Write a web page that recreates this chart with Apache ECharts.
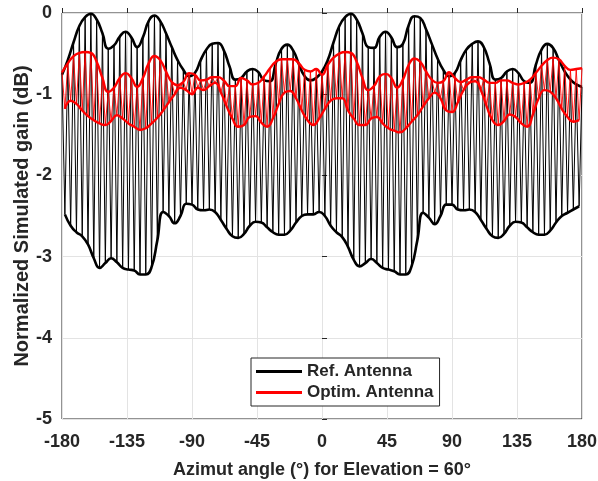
<!DOCTYPE html>
<html><head><meta charset="utf-8">
<script src="https://cdn.jsdelivr.net/npm/echarts@6/dist/echarts.min.js"></script>
<style>html,body{margin:0;padding:0;background:#fff}#c{width:598px;height:481px}</style>
</head><body><div id="c"></div>
<script>
// Azimuth sampling (deg): "A" samples at -180,-176,...,180 ; "B" samples at -178,-174,...,178
const azStart = -180;
const azStep = 2;
const xTicks = [-180, -135, -90, -45, 0, 45, 90, 135, 180];
const yTicks = [0, -1, -2, -3, -4, -5];

// Ref. Antenna (black) : upper samples and lower samples of the fast ripple
const refUpper = [
 -0.76,-0.58,-0.36,-0.16,-0.05,-0.01,-0.08,-0.25,-0.44,-0.40,-0.29,-0.23,-0.30,-0.42,-0.30,-0.10,-0.03,-0.10,-0.25,-0.42,-0.58,-0.70,-0.78,-0.74,-0.58,-0.45,-0.38,-0.37,-0.46,-0.66,-0.82,-0.80,-0.72,-0.69,-0.73,-0.83,-0.84,-0.62,-0.44,-0.39,-0.46,-0.63,-0.78,-0.83,-0.80,
 -0.72,-0.58,-0.36,-0.16,-0.05,-0.01,-0.08,-0.25,-0.42,-0.43,-0.29,-0.23,-0.30,-0.42,-0.38,-0.15,-0.04,-0.06,-0.20,-0.38,-0.56,-0.70,-0.78,-0.74,-0.58,-0.45,-0.38,-0.35,-0.42,-0.62,-0.82,-0.80,-0.72,-0.69,-0.74,-0.84,-0.86,-0.64,-0.45,-0.38,-0.43,-0.58,-0.72,-0.82,-0.88,-0.91
];
const refLower = [
 -2.48,-2.62,-2.70,-2.75,-2.85,-3.02,-3.14,-3.08,-3.02,-3.07,-3.14,-3.16,-3.17,-3.22,-3.22,-3.13,-2.80,-2.45,-2.50,-2.59,-2.50,-2.35,-2.36,-2.42,-2.43,-2.42,-2.45,-2.55,-2.66,-2.75,-2.77,-2.72,-2.62,-2.57,-2.58,-2.64,-2.70,-2.73,-2.73,-2.68,-2.58,-2.50,-2.48,-2.48,-2.45,
 -2.50,-2.62,-2.70,-2.76,-2.88,-3.04,-3.12,-3.08,-3.03,-3.08,-3.14,-3.16,-3.18,-3.22,-3.22,-3.12,-2.80,-2.46,-2.52,-2.60,-2.50,-2.36,-2.36,-2.42,-2.43,-2.42,-2.45,-2.55,-2.66,-2.75,-2.77,-2.72,-2.62,-2.57,-2.58,-2.64,-2.70,-2.73,-2.73,-2.68,-2.58,-2.50,-2.46,-2.42,-2.38
];
// Optim. Antenna (red)
const optUpper = [
 -0.73,-0.62,-0.53,-0.49,-0.48,-0.49,-0.60,-0.80,-0.97,-0.92,-0.80,-0.74,-0.80,-0.91,-0.80,-0.62,-0.53,-0.58,-0.72,-0.85,-0.89,-0.85,-0.74,-0.76,-0.83,-0.82,-0.79,-0.79,-0.83,-0.90,-0.90,-0.80,-0.83,-0.88,-0.86,-0.78,-0.68,-0.60,-0.57,-0.57,-0.57,-0.62,-0.70,-0.72,-0.69,
 -0.76,-0.64,-0.55,-0.50,-0.48,-0.49,-0.60,-0.80,-0.95,-0.90,-0.78,-0.75,-0.80,-0.92,-0.82,-0.64,-0.56,-0.60,-0.72,-0.82,-0.86,-0.84,-0.73,-0.80,-0.85,-0.82,-0.79,-0.79,-0.82,-0.86,-0.86,-0.83,-0.83,-0.86,-0.88,-0.86,-0.82,-0.74,-0.65,-0.58,-0.55,-0.57,-0.65,-0.70,-0.69,-0.68
];
const optLower = [
 -1.18,-1.08,-1.12,-1.20,-1.27,-1.32,-1.36,-1.38,-1.33,-1.26,-1.30,-1.36,-1.40,-1.44,-1.42,-1.36,-1.29,-1.20,-1.10,-1.00,-0.92,-0.95,-1.00,-0.92,-0.95,-0.90,-0.86,-0.98,-1.15,-1.30,-1.40,-1.38,-1.28,-1.27,-1.35,-1.40,-1.30,-1.12,-0.98,-0.96,-1.05,-1.20,-1.32,-1.38,-1.30,
 -1.18,-1.08,-1.05,-1.05,-1.20,-1.30,-1.38,-1.38,-1.30,-1.28,-1.36,-1.42,-1.45,-1.47,-1.42,-1.34,-1.26,-1.15,-1.05,-0.98,-1.05,-1.20,-1.22,-1.10,-0.95,-0.86,-0.84,-0.95,-1.15,-1.32,-1.38,-1.33,-1.25,-1.28,-1.36,-1.40,-1.25,-1.05,-0.95,-0.97,-1.05,-1.18,-1.28,-1.34,-1.32
];

function pts(arr, offset){ return arr.map((v,i)=>[azStart + offset + 2*azStep*i, v]); }
function zig(up, low){
  const out=[];
  for(let i=0;i<up.length;i++){
    out.push([azStart + 2*azStep*i, up[i]]);
    if(i<low.length) out.push([azStart + azStep + 2*azStep*i, low[i]]);
  }
  return out;
}

const FONT = 'Liberation Sans, Arial, Helvetica, sans-serif';
const TXT = '#262626';
const chart = echarts.init(document.getElementById('c'), null, {renderer:'canvas'});
chart.setOption({
  animation:false,
  backgroundColor:'#fff',
  grid:{left:62, top:13, width:520, height:406, containLabel:false, outerBoundsMode:'none',
    show:true, borderColor:TXT, borderWidth:1, backgroundColor:'transparent'},
  xAxis:{type:'value', min:-180, max:180, interval:45,
    axisLine:{show:false}, axisTick:{show:true, inside:true, length:5, lineStyle:{color:TXT}},
    splitLine:{show:true, lineStyle:{color:'#e3e3e3', width:1}},
    axisLabel:{color:TXT, fontFamily:FONT, fontWeight:'bold', fontSize:18, margin:14},
    name:'Azimut angle (°) for Elevation = 60°', nameLocation:'middle', nameGap:42, nameMoveOverlap:false,
    nameTextStyle:{color:TXT, fontFamily:FONT, fontWeight:'bold', fontSize:18}},
  yAxis:{type:'value', min:-5, max:0, interval:1,
    axisLine:{show:false}, axisTick:{show:true, inside:true, length:5, lineStyle:{color:TXT}},
    splitLine:{show:true, lineStyle:{color:'#e3e3e3', width:1}},
    axisLabel:{color:TXT, fontFamily:FONT, fontWeight:'bold', fontSize:18, margin:10},
    name:'Normalized Simulated gain (dB)', nameLocation:'middle', nameGap:30, nameMoveOverlap:false,
    nameTextStyle:{color:TXT, fontFamily:FONT, fontWeight:'bold', fontSize:20}},
  legend:{orient:'vertical', left:251, top:358, padding:[5,6,5,5], itemGap:4,
    itemWidth:46, itemHeight:3, icon:'rect',
    backgroundColor:'#fff', borderColor:TXT, borderWidth:1,
    textStyle:{color:TXT, fontFamily:FONT, fontWeight:'bold', fontSize:17, padding:[0,0,0,0]},
    data:[{name:'Ref. Antenna', itemStyle:{color:'#000'}}, {name:'Optim. Antenna', itemStyle:{color:'#ff0000'}}]},
  series:[
    {name:'Ref. Antenna', type:'line', data:zig(refUpper, refLower), showSymbol:false, lineStyle:{color:'#000', width:1}, itemStyle:{color:'#000'}, z:2},
    {name:'Ref. Antenna', type:'line', data:pts(refUpper,0), smooth:0.5, showSymbol:false, lineStyle:{color:'#000', width:2.6}, itemStyle:{color:'#000'}, z:3},
    {name:'Ref. Antenna', type:'line', data:pts(refLower,azStep), smooth:0.5, showSymbol:false, lineStyle:{color:'#000', width:2.6}, itemStyle:{color:'#000'}, z:3},
    {name:'Optim. Antenna', type:'line', data:zig(optUpper, optLower), showSymbol:false, lineStyle:{color:'#ff0000', width:0.9}, itemStyle:{color:'#ff0000'}, z:4},
    {name:'Optim. Antenna', type:'line', data:pts(optUpper,0), smooth:0.5, showSymbol:false, lineStyle:{color:'#ff0000', width:2.4}, itemStyle:{color:'#ff0000'}, z:5},
    {name:'Optim. Antenna', type:'line', data:pts(optLower,azStep), smooth:0.5, showSymbol:false, lineStyle:{color:'#ff0000', width:2.4}, itemStyle:{color:'#ff0000'}, z:5}
  ]
});
</script></body></html>
